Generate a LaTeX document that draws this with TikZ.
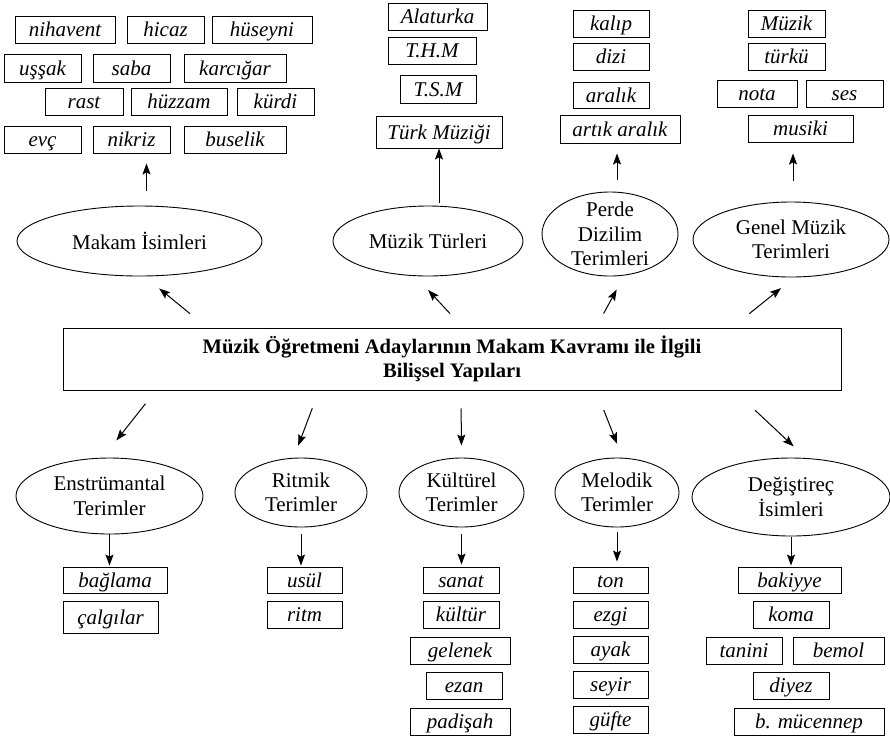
\documentclass[tikz,border=0pt]{standalone}
\usepackage{fontspec}
\setmainfont{Liberation Serif}
\usetikzlibrary{shapes.geometric,arrows.meta}

\begin{document}
\begin{tikzpicture}[x=1pt,y=-1pt]
	\tikzstyle{every node}=[font=\fontsize{21}{24.5}\selectfont]
	\tikzstyle{terim}=[draw,rectangle,line width=0.9pt,inner sep=0pt,minimum height=27pt,text height=15pt,text depth=1pt,font=\fontsize{21}{24.5}\selectfont\itshape]
	\tikzstyle{kavram}=[draw,ellipse,line width=0.9pt,inner sep=0pt,align=center]
	\tikzstyle{ok}=[line width=1pt,-{Stealth[length=11pt,width=8pt,inset=2pt]}]
	
	\useasboundingbox (0,0) rectangle (890,740);
	
	% ana kavram
	\node[draw,rectangle,line width=0.9pt,minimum width=778pt,minimum height=62pt,align=center,font=\fontsize{20.6}{24}\selectfont\bfseries] (merkez) at (452,359) {M\"uzik \"O\u{g}retmeni Adaylar\i n\i n Makam Kavram\i{} ile \.Ilgili\\Bili\c{s}sel Yap\i lar\i};
	
	% ust kavramlar
	\node[kavram,minimum width=245pt,minimum height=70pt] (makam) at (139.5,241) {Makam İsimleri};
	\node[kavram,minimum width=190pt,minimum height=70pt] (turler) at (428,241) {Müzik Türleri};
	\node[kavram,minimum width=136pt,minimum height=84pt,inner ysep=-8pt] (perde) at (610,234) {Perde\\Dizilim\\Terimleri};
	\node[kavram,minimum width=196pt,minimum height=75pt] (genel) at (791,239.5) {Genel Müzik\\Terimleri};
	
	% alt kavramlar
	\node[kavram,minimum width=187pt,minimum height=76pt] (enst) at (109.5,496) {Enstrümantal\\Terimler};
	\node[kavram,minimum width=132pt,minimum height=69pt] (ritmik) at (301,492.5) {Ritmik\\Terimler};
	\node[kavram,minimum width=125pt,minimum height=69pt] (kultur) at (461.5,492.5) {Kültürel\\Terimler};
	\node[kavram,minimum width=124pt,minimum height=69pt] (melodik) at (617,492.5) {Melodik\\Terimler};
	\node[kavram,minimum width=198pt,minimum height=78pt] (degis) at (791,497) {Değiştireç\\İsimleri};
	
	% makam isimleri
	\node[terim,minimum width=100pt] (nihavent) at (65,29.5) {nihavent};
	\node[terim,minimum width=77pt] (hicaz) at (165.5,29.5) {hicaz};
	\node[terim,minimum width=100pt] (huseyni) at (262,29.5) {hüseyni};
	\node[terim,minimum width=77pt,minimum height=28pt] (ussak) at (42.5,68) {uşşak};
	\node[terim,minimum width=77pt,minimum height=28pt] (saba) at (131.5,68) {saba};
	\node[terim,minimum width=102pt,minimum height=28pt] (karcigar) at (235,68) {karcığar};
	\node[terim,minimum width=78pt] (rast) at (84,101.5) {rast};
	\node[terim,minimum width=96pt] (huzzam) at (179,101.5) {hüzzam};
	\node[terim,minimum width=77pt] (kurdi) at (275.5,101.5) {kürdi};
	\node[terim,minimum width=77pt] (evc) at (42.5,139.5) {evç};
	\node[terim,minimum width=77pt] (nikriz) at (131.5,139.5) {nikriz};
	\node[terim,minimum width=102pt] (buselik) at (235,139.5) {buselik};
	
	% muzik turleri
	\node[terim,minimum width=99pt] (alaturka) at (437.5,16.5) {Alaturka};
	\node[terim,minimum width=88pt] (thm) at (432,50.5) {T.H.M};
	\node[terim,minimum width=76pt,minimum height=28pt] (tsm) at (438,89) {T.S.M};
	\node[terim,minimum width=126pt,minimum height=32pt] (tmuzik) at (439,132) {Türk Müziği};
	
	% perde dizilim terimleri
	\node[terim,minimum width=76pt] (kalip) at (611,23.5) {kalıp};
	\node[terim,minimum width=76pt] (dizi) at (611,56.5) {dizi};
	\node[terim,minimum width=76pt,minimum height=26pt] (aralik) at (611,95) {aralık};
	\node[terim,minimum width=120pt,minimum height=28pt] (artik) at (620,129) {artık aralık};
	
	% genel muzik terimleri
	\node[terim,minimum width=77pt] (muzik) at (786.5,23.5) {Müzik};
	\node[terim,minimum width=77pt] (turku) at (786.5,56.5) {türkü};
	\node[terim,minimum width=80pt] (nota) at (757,93.5) {nota};
	\node[terim,minimum width=77pt] (ses) at (844.5,93.5) {ses};
	\node[terim,minimum width=105pt] (musiki) at (800.5,128.5) {musiki};
	
	% enstrumantal ve ritmik terimler
	\node[terim,minimum width=104pt,minimum height=26pt] (baglama) at (115,580) {bağlama};
	\node[terim,minimum width=95pt,minimum height=32pt] (calgilar) at (110.5,617) {çalgılar};
	\node[terim,minimum width=75pt,minimum height=26pt] (usul) at (304.5,580) {usül};
	\node[terim,minimum width=75pt] (ritm) at (304.5,614.5) {ritm};
	
	% kulturel terimler
	\node[terim,minimum width=76pt,minimum height=26pt] (sanat) at (461,580) {sanat};
	\node[terim,minimum width=76pt] (kulturk) at (461,614.5) {kültür};
	\node[terim,minimum width=100pt] (gelenek) at (460,650.5) {gelenek};
	\node[terim,minimum width=76pt] (ezan) at (464,685.5) {ezan};
	\node[terim,minimum width=100pt] (padisah) at (460,721.5) {padişah};
	
	% melodik terimler
	\node[terim,minimum width=75pt,minimum height=26pt] (ton) at (610.5,580) {ton};
	\node[terim,minimum width=75pt] (ezgi) at (610.5,614.5) {ezgi};
	\node[terim,minimum width=75pt] (ayak) at (610.5,649.5) {ayak};
	\node[terim,minimum width=75pt] (seyir) at (610.5,684.5) {seyir};
	\node[terim,minimum width=75pt] (gufte) at (610.5,719.5) {güfte};
	
	% degistirec isimleri
	\node[terim,minimum width=103pt,minimum height=26pt] (bakiyye) at (789.5,580) {bakiyye};
	\node[terim,minimum width=76pt] (koma) at (791,614.5) {koma};
	\node[terim,minimum width=76pt] (tanini) at (744,650.5) {tanini};
	\node[terim,minimum width=91pt] (bemol) at (838.5,650.5) {bemol};
	\node[terim,minimum width=76pt] (diyez) at (791,685.5) {diyez};
	\node[terim,minimum width=150pt] (mucennep) at (809,721.5) {b. mücennep};
	
	% oklar: merkezden yukari
	\draw[ok,shorten <=22pt,shorten >=19pt] ([xshift=-245pt]merkez.north) -- (makam.-82);
	\draw[ok,shorten <=19pt,shorten >=19pt] ([xshift=11pt]merkez.north) -- (turler.-110);
	\draw[ok,shorten <=16pt,shorten >=16pt] ([xshift=144pt]merkez.north) -- (perde.-71);
	\draw[ok,shorten <=22pt,shorten >=17pt] ([xshift=280pt]merkez.north) -- (genel.-85);
	
	% oklar: merkezden asagi
	\draw[ok,shorten <=17pt,shorten >=22pt] ([xshift=-296pt]merkez.south) -- (enst.100);
	\draw[ok,shorten <=19pt,shorten >=13pt] ([xshift=-133pt]merkez.south) -- (ritmik.102);
	\draw[ok,shorten <=18pt,shorten >=12pt] ([xshift=9pt]merkez.south) -- (kultur.north);
	\draw[ok,shorten <=21pt,shorten >=15pt] ([xshift=144pt]merkez.south) -- (melodik.81);
	\draw[ok,shorten <=29pt,shorten >=17pt] ([xshift=282pt]merkez.south) -- (degis.69);
	
	% oklar: kavramdan terimlere
	\draw[ok,shorten <=15pt,shorten >=10pt] ([xshift=7pt]makam.north) -- ([xshift=7pt]makam.north |- nikriz.south);
	\draw[ok,shorten <=3pt] (turler.north -| tmuzik.south) -- (tmuzik.south);
	\draw[ok,shorten <=12pt,shorten >=10pt] ([xshift=7pt]perde.north) -- ([xshift=7pt]perde.north |- artik.south);
	\draw[ok,shorten <=21pt,shorten >=11pt] ([xshift=2pt]genel.north) -- ([xshift=2pt]genel.north |- musiki.south);
	\draw[ok,shorten >=1pt] (enst.south) -- (enst.south |- baglama.north);
	\draw[ok,shorten <=7pt,shorten >=1pt] (ritmik.south) -- (ritmik.south |- usul.north);
	\draw[ok,shorten <=7pt,shorten >=2pt] (kultur.south) -- (kultur.south |- sanat.north);
	\draw[ok,shorten <=5pt,shorten >=5pt] (melodik.south) -- (melodik.south |- ton.north);
	\draw[ok,shorten <=1pt,shorten >=1pt] (degis.south) -- (degis.south |- bakiyye.north);
\end{tikzpicture}
\end{document}
